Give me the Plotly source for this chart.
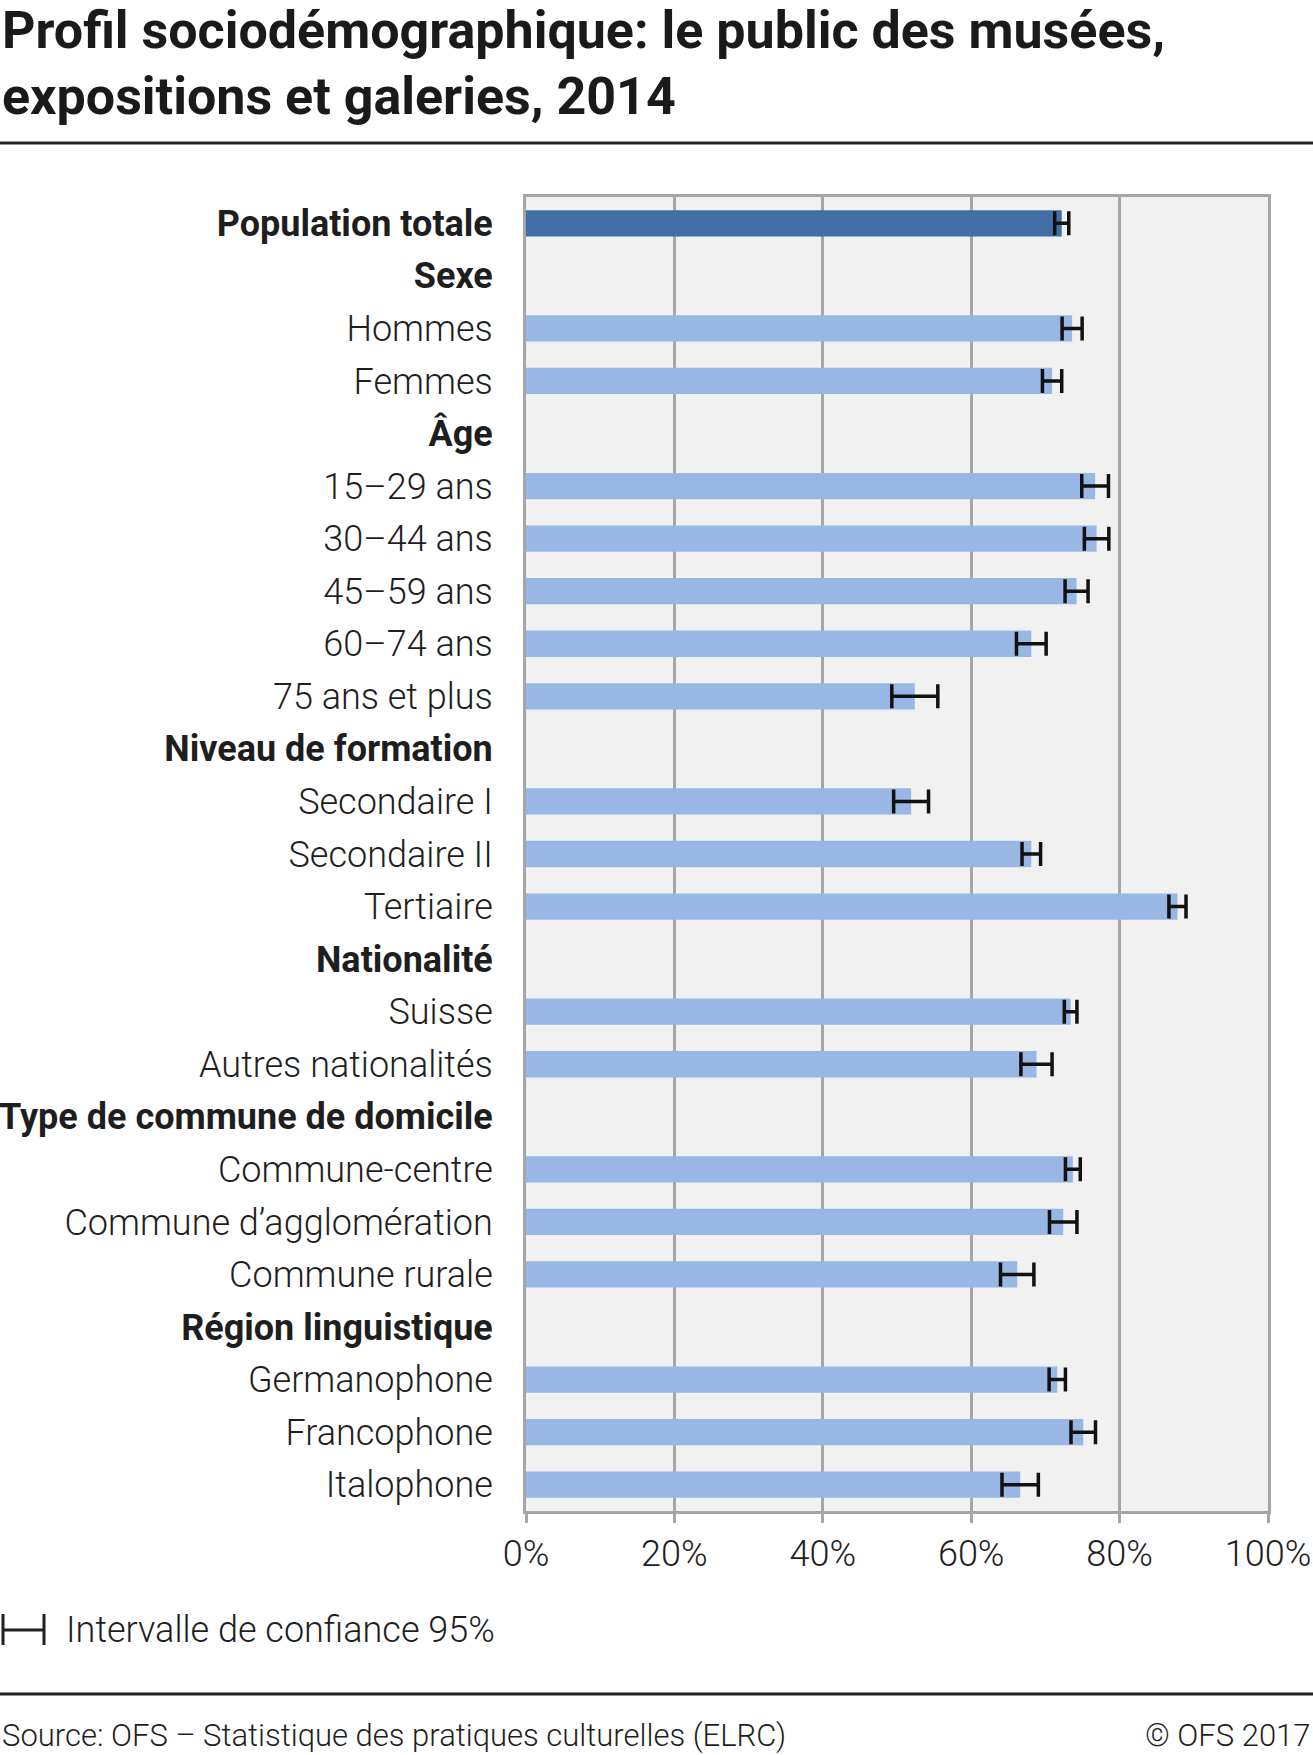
import plotly.graph_objects as go

# ---------------- data ----------------
categories = [
    "Population totale", "Sexe", "Hommes", "Femmes", "Âge",
    "15–29 ans", "30–44 ans", "45–59 ans", "60–74 ans", "75 ans et plus",
    "Niveau de formation", "Secondaire I", "Secondaire II", "Tertiaire",
    "Nationalité", "Suisse", "Autres nationalités",
    "Type de commune de domicile", "Commune-centre", "Commune d’agglomération", "Commune rurale",
    "Région linguistique", "Germanophone", "Francophone", "Italophone",
]
bold_labels = ["Population totale", "Sexe", "Âge", "Niveau de formation", "Nationalité",
               "Type de commune de domicile", "Région linguistique"]
values = [72.2, None, 73.6, 70.9, None,
          76.7, 76.9, 74.2, 68.1, 52.4,
          None, 51.9, 68.1, 87.8,
          None, 73.4, 68.8,
          None, 73.7, 72.4, 66.2,
          None, 71.6, 75.1, 66.6]
ci = [0.95, None, 1.35, 1.3, None,
      1.8, 1.65, 1.55, 2.0, 3.1,
      None, 2.35, 1.25, 1.15,
      None, 0.85, 2.1,
      None, 1.0, 1.85, 2.25,
      None, 1.1, 1.65, 2.45]
x_ticks = [0, 20, 40, 60, 80, 100]
x_tick_labels = ["0%", "20%", "40%", "60%", "80%", "100%"]

# ---------------- layout geometry ----------------
W, H = 1313, 1755
L, R, T, B = 526, 45, 197, 244
PW, PH = W - L - R, H - T - B

def px(x):
    return (x - L) / PW

def py(y):
    return (H - B - y) / PH

FONT = "Roboto"
TXT = "#1e1e1e"

tick_text = [f"<b>{c}</b>" if c in bold_labels else c for c in categories]
colors = ["#436ea5" if c == "Population totale" else "#98b7e4" for c in categories]

fig = go.Figure()
fig.add_trace(go.Bar(
    y=categories, x=values, orientation="h",
    marker=dict(color=colors, line=dict(width=0)),
    error_x=dict(type="data", array=ci, symmetric=True, color="#111111",
                 thickness=3.5, width=12),
    hoverinfo="x+y",
))

fig.update_layout(
    width=W, height=H,
    margin=dict(l=L, r=R, t=T, b=B, autoexpand=False),
    paper_bgcolor="white", plot_bgcolor="#f1f1f1",
    bargap=0.5, showlegend=False,
    font=dict(family=FONT, color=TXT),
)
fig.update_xaxes(
    range=[0, 100], tickvals=x_ticks, ticktext=x_tick_labels,
    showgrid=True, gridcolor="#a6a6a6", gridwidth=3,
    showline=True, linecolor="#a6a6a6", linewidth=3, mirror=True,
    ticks="outside", ticklen=9, tickwidth=3, tickcolor="#a6a6a6",
    tickfont=dict(family=FONT, size=36, color=TXT, weight=300),
    zeroline=False, fixedrange=True,
)
fig.update_yaxes(
    categoryorder="array", categoryarray=categories,
    tickvals=categories, ticktext=tick_text,
    autorange="reversed", showgrid=False,
    showline=True, linecolor="#a6a6a6", linewidth=3, mirror=True,
    ticks="", ticklabelstandoff=23,
    tickfont=dict(family=FONT, size=36, color=TXT, weight=300),
    fixedrange=True,
)

# title
fig.add_annotation(text="<b>Profil sociodémographique: le public des musées,</b>",
                   xref="paper", yref="paper", x=px(0), y=py(30), xanchor="left", yanchor="middle",
                   showarrow=False, font=dict(family=FONT, size=52, color="#1a1a1a"))
fig.add_annotation(text="<b>expositions et galeries, 2014</b>",
                   xref="paper", yref="paper", x=px(0), y=py(96), xanchor="left", yanchor="middle",
                   showarrow=False, font=dict(family=FONT, size=52, color="#1a1a1a"))

# rules
for yy in (143, 1694):
    fig.add_shape(type="line", xref="paper", yref="paper", x0=px(0), x1=px(W), y0=py(yy), y1=py(yy),
                  line=dict(color="#222222", width=3))

# legend for confidence interval
fig.add_shape(type="path", xref="paper", yref="paper",
              path=f"M {px(3)} {py(1614)} L {px(3)} {py(1645)} M {px(3)} {py(1630)} L {px(44)} {py(1630)} "
                   f"M {px(44)} {py(1614)} L {px(44)} {py(1645)}",
              line=dict(color="#222222", width=3))
fig.add_annotation(text="Intervalle de confiance 95%", xref="paper", yref="paper",
                   x=px(64), y=py(1630), xanchor="left", yanchor="middle", showarrow=False,
                   font=dict(family=FONT, size=36, color=TXT, weight=300))

# source
fig.add_annotation(text="Source: OFS – Statistique des pratiques culturelles (ELRC)", xref="paper", yref="paper",
                   x=px(0), y=py(1735), xanchor="left", yanchor="middle", showarrow=False,
                   font=dict(family=FONT, size=31, color=TXT, weight=300))
fig.add_annotation(text="© OFS 2017", xref="paper", yref="paper",
                   x=px(W), y=py(1735), xanchor="right", yanchor="middle", showarrow=False,
                   font=dict(family=FONT, size=31, color=TXT, weight=300))

fig.write_html("out.html", config={"displayModeBar": False},
               post_script="document.body.style.margin='0';document.body.style.overflow='hidden';")
